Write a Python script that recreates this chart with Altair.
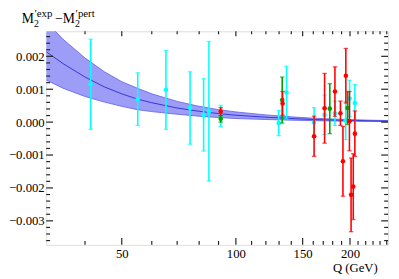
import altair as alt
import pandas as pd

# ---- band (units of 1e-3) ----
band_q = [31.6, 35, 40, 45, 50, 55, 60, 70, 80, 90, 100, 120, 140, 160, 180, 200, 225, 252]
band_mid = [2.14, 1.78, 1.37, 1.07, 0.86, 0.70, 0.59, 0.43, 0.33, 0.26, 0.21, 0.15, 0.11, 0.08, 0.065, 0.05, 0.04, 0.03]
band_lo = [1.28, 1.03, 0.78, 0.61, 0.48, 0.38, 0.32, 0.24, 0.18, 0.14, 0.11, 0.08, 0.06, 0.045, 0.035, 0.028, 0.022, 0.017]
band_hi = [3.05, 2.52, 1.95, 1.53, 1.23, 1.03, 0.86, 0.63, 0.48, 0.38, 0.31, 0.22, 0.16, 0.12, 0.095, 0.077, 0.06, 0.048]

# ---- data points (Q in GeV, value and error in units of 1e-3) ----
cyan_q = [41.4, 55.1, 65.4, 75.7, 82.2, 84.9, 91.2, 129.7, 136.0, 160.8, 171.4, 182.5, 194.8, 199.5, 206.0]
cyan_v = [1.15, 0.70, 0.98, 0.43, 0.22, 0.33, 0.19, -0.03, 0.90, -0.01, 0.22, 0.27, 0.05, 0.72, 0.58]
cyan_e = [1.37, 0.80, 1.20, 1.10, 1.10, 2.12, 0.32, 0.38, 0.80, 0.45, 0.60, 0.37, 0.58, 0.55, 0.56]

green_q = [91.2, 132.5, 176.9, 197.0]
green_v = [0.10, 0.67, 0.41, 0.43]
green_e = [0.10, 0.70, 0.76, 0.50]

red_q = [91.2, 132.8, 160.8, 171.4, 182.5, 188.7, 191.6, 195.0, 199.3, 201.3, 204.0, 206.0]
red_v = [0.32, 0.57, -0.43, 0.42, 0.93, 0.27, -1.19, 1.41, 0.03, -2.21, -1.96, -0.35]
red_e = [0.12, 0.36, 0.61, 1.06, 0.75, 0.37, 1.06, 0.83, 0.90, 1.12, 1.00, 0.69]

# ---- axis ticks ----
x_major = [50, 100, 150, 200]
x_minor = [40, 60, 70, 80, 90, 110, 120, 130, 140, 160, 170, 180, 190, 210, 220, 230, 240, 250]
y_major = [-0.003, -0.002, -0.001, 0.0, 0.001, 0.002]
y_minor = [-0.0036, -0.0034, -0.0032, -0.0028, -0.0026, -0.0024, -0.0022,
           -0.0018, -0.0016, -0.0014, -0.0012, -0.0008, -0.0006, -0.0004, -0.0002,
           0.0002, 0.0004, 0.0006, 0.0008, 0.0012, 0.0014, 0.0016, 0.0018,
           0.0022, 0.0024, 0.0026]

W, H = 349, 218
XDOM = [31.6, 252]
YDOM = [-0.00373, 0.00276]
FONT = "Times New Roman, Liberation Serif, serif"
FRAME = "#222222"

xs = alt.Scale(type="log", domain=XDOM, nice=False)
ys = alt.Scale(domain=YDOM, nice=False, zero=False)

xaxis = alt.Axis(values=x_major, format="d", ticks=False, domain=False, grid=False,
                 labelFont=FONT, labelFontSize=13, labelColor="black", labelPadding=3,
                 labelFlush=False,
                 title="Q (GeV)", titleFont=FONT, titleFontSize=13, titleFontWeight="normal",
                 titleColor="black", titleX=W - 11, titleY=27, titleAlign="right",
                 titleBaseline="alphabetic", titleAnchor="end")
yaxis = alt.Axis(values=y_major, labelExpr="replace(format(datum.value, '.3f'), '-', '−')",
                 ticks=False, domain=False, grid=False, labelFont=FONT, labelFontSize=13,
                 labelColor="black", labelPadding=2, title=None)

band_df = pd.DataFrame({
    "Q": band_q,
    "mid": [v * 1e-3 for v in band_mid],
    "lo": [v * 1e-3 for v in band_lo],
    "hi": [v * 1e-3 for v in band_hi],
})

X = alt.X("Q:Q", scale=xs, axis=xaxis)

band = alt.Chart(band_df).mark_area(color="#9d9df8", clip=True).encode(
    x=X, y=alt.Y("lo:Q", scale=ys, axis=yaxis), y2="hi:Q")
edge_hi = alt.Chart(band_df).mark_line(color="#5c5ce8", strokeWidth=0.8, clip=True).encode(
    x=X, y=alt.Y("hi:Q", scale=ys, axis=yaxis))
edge_lo = alt.Chart(band_df).mark_line(color="#5c5ce8", strokeWidth=0.8, clip=True).encode(
    x=X, y=alt.Y("lo:Q", scale=ys, axis=yaxis))
mid = alt.Chart(band_df).mark_line(color="#3535d8", strokeWidth=1.0, clip=True).encode(
    x=X, y=alt.Y("mid:Q", scale=ys, axis=yaxis))


def series(q, v, e, color):
    df = pd.DataFrame({
        "Q": q,
        "val": [a * 1e-3 for a in v],
        "lo": [(a - b) * 1e-3 for a, b in zip(v, e)],
        "hi": [(a + b) * 1e-3 for a, b in zip(v, e)],
    })
    base = alt.Chart(df)
    bars = base.mark_rule(color=color, strokeWidth=1.6).encode(
        x=X, y=alt.Y("lo:Q", scale=ys, axis=yaxis), y2="hi:Q")
    cap_lo = base.mark_tick(color=color, orient="horizontal", size=4.5, thickness=1.3).encode(
        x=X, y=alt.Y("lo:Q", scale=ys, axis=yaxis))
    cap_hi = base.mark_tick(color=color, orient="horizontal", size=4.5, thickness=1.3).encode(
        x=X, y=alt.Y("hi:Q", scale=ys, axis=yaxis))
    dots = base.mark_circle(color=color, size=22, opacity=1).encode(
        x=X, y=alt.Y("val:Q", scale=ys, axis=yaxis))
    return [bars, cap_lo, cap_hi, dots]


def yticks(vals, x0, x1):
    return alt.Chart(pd.DataFrame({"t": vals})).mark_rule(color=FRAME, strokeWidth=1.2).encode(
        y=alt.Y("t:Q", scale=ys, axis=yaxis), x=alt.value(x0), x2=alt.value(x1))


def xticks(vals, y0, y1):
    return alt.Chart(pd.DataFrame({"t": vals})).mark_rule(color=FRAME, strokeWidth=1.2).encode(
        x=alt.X("t:Q", scale=xs, axis=xaxis), y=alt.value(y0), y2=alt.value(y1))


ticks = [
    yticks(y_major, 0, 7), yticks(y_minor, 0, 4),
    yticks(y_major, W, W - 7), yticks(y_minor, W, W - 4),
    xticks(x_major, H, H - 7), xticks(x_minor, H, H - 4),
    xticks(x_major, 0, 5), xticks(x_minor, 0, 3),
]

# ---- title pieces: M'2^exp - M'2^pert ----
title_parts = ["M", "2", "′exp", "−", "M", "2", "′pert"]
title_x = [-25, -12.5, -12, 9, 17, 29.5, 30]
title_y = [-9, -4, -15, -9, -9, -4, -15]
title_size = [14, 10, 11, 14, 14, 10, 11]

title_layers = []
for t, tx, ty, ts in zip(title_parts, title_x, title_y, title_size):
    title_layers.append(
        alt.Chart(pd.DataFrame({"t": [t]})).mark_text(
            font=FONT, fontSize=ts, align="left", baseline="alphabetic", color="black"
        ).encode(text="t:N", x=alt.value(tx), y=alt.value(ty))
    )

layers = [band, edge_hi, edge_lo, mid] + ticks
layers += series(cyan_q, cyan_v, cyan_e, "#00ffff")
layers += series(green_q, green_v, green_e, "#00a000")
layers += series(red_q, red_v, red_e, "#ff0000")
layers += title_layers

chart = alt.layer(*layers).properties(
    width=W, height=H,
    autosize=alt.AutoSizeParams(type="none"),
    padding={"left": 39, "top": 21, "right": 3, "bottom": 30},
).configure_view(stroke=FRAME, strokeWidth=1.5).configure(background="white")

chart.save("out.html", embed_options={"renderer": "svg", "actions": False})
